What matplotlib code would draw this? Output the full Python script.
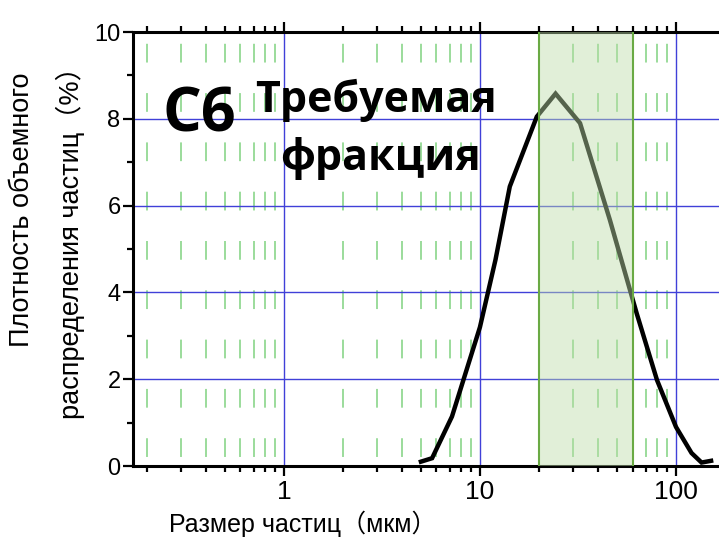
import numpy as np
import matplotlib
matplotlib.use("Agg")
import matplotlib.pyplot as plt
from matplotlib.ticker import LogLocator, FixedLocator, NullFormatter, FixedFormatter

# DATA
# -----------------------------------------------------------------------------------------------
size_um = [5.0, 5.7, 7.2, 10, 12, 14.2, 19.5, 24.3, 32.4, 46, 63, 80, 100, 120, 135, 151]
density = [0.1, 0.18, 1.14, 3.2, 4.75, 6.44, 8.05, 8.58, 7.9, 5.67, 3.52, 1.98, 0.9, 0.3, 0.08, 0.12]

fraction_range = [20, 60]
x_major = [1, 10, 100]
x_major_labels = ['1', '10', '100']
y_major = [0, 2, 4, 6, 8, 10]

# STYLE
# -----------------------------------------------------------------------------------------------
plt.rcParams['lines.scale_dashes'] = False
label_font = ['Liberation Sans', 'Noto Sans CJK SC']
bold_font = ['Open Sans', 'DejaVu Sans']

fig = plt.figure(figsize=(7.19, 5.38), dpi=100)
ax = fig.add_axes([0.185, 0.1338, 0.815, 0.8067])

ax.set_xscale('log')
ax.set_xlim(0.170, 165.7)
ax.set_ylim(0, 10)

# green dashed minor grid + blue major grid
ax.xaxis.set_minor_locator(LogLocator(base=10, subs=np.arange(2, 10)))
ax.xaxis.set_minor_formatter(NullFormatter())
ax.xaxis.set_major_locator(FixedLocator(x_major))
ax.xaxis.set_major_formatter(FixedFormatter(x_major_labels))
ax.yaxis.set_major_locator(FixedLocator(y_major))
ax.yaxis.set_minor_locator(FixedLocator([1, 3, 5, 7, 9]))

ax.grid(which='minor', axis='x', color='#9bdc9b', linewidth=1.4,
        linestyle=(29, (13.5, 22)))
ax.grid(which='major', axis='both', color='#4040d8', linewidth=1.0)
ax.set_axisbelow(True)

# curve
ax.plot(size_um, density, color='black', linewidth=3.2, solid_joinstyle='miter', zorder=3)

# required fraction shading (on top of the curve)
ax.axvspan(fraction_range[0], fraction_range[1], facecolor='#bedcaa', alpha=0.45,
           edgecolor='none', zorder=4)
for xv in fraction_range:
    ax.axvline(xv, color='#6aaa44', linewidth=1.5, zorder=4)

# spines / ticks
for side in ['left', 'bottom', 'top']:
    ax.spines[side].set_linewidth(2.2)
ax.spines['right'].set_visible(False)
ax.tick_params(axis='x', which='both', direction='out', top=True, bottom=True,
               labeltop=False, width=1.6, labelsize=19, pad=3)
ax.tick_params(axis='x', which='major', length=7)
ax.tick_params(axis='x', which='minor', length=4)
ax.tick_params(axis='y', which='both', direction='out', width=1.6, labelsize=17, pad=2)
ax.tick_params(axis='y', which='major', length=7)
ax.tick_params(axis='y', which='minor', length=4)
for lbl in ax.get_xticklabels() + ax.get_yticklabels():
    lbl.set_family(['Liberation Sans'])

# labels
fig.text(302.5 / 719, (538 - 524) / 538, 'Размер частиц（мкм）', family=label_font,
         fontsize=18, ha='center', va='center')
fig.text(22 / 719, 1 - 210 / 538, 'Плотность объемного', family=label_font,
         fontsize=19.5, rotation=90, ha='center', va='center')
fig.text(70 / 719, 1 - 236 / 538, 'распределения частиц（%）', family=label_font,
         fontsize=19.5, rotation=90, ha='center', va='center')

# annotations
fig.text(163 / 719, 1 - 132 / 538, 'C6', family=bold_font, fontweight='bold',
         fontsize=44, ha='left', va='baseline')
fig.text(375.5 / 719, 1 - 112 / 538, 'Требуемая', family=bold_font, fontweight='bold',
         fontsize=31, ha='center', va='baseline')
fig.text(381 / 719, 1 - 170 / 538, 'фракция', family=bold_font, fontweight='bold',
         fontsize=31, ha='center', va='baseline')

fig.savefig('out.png', dpi=100)
